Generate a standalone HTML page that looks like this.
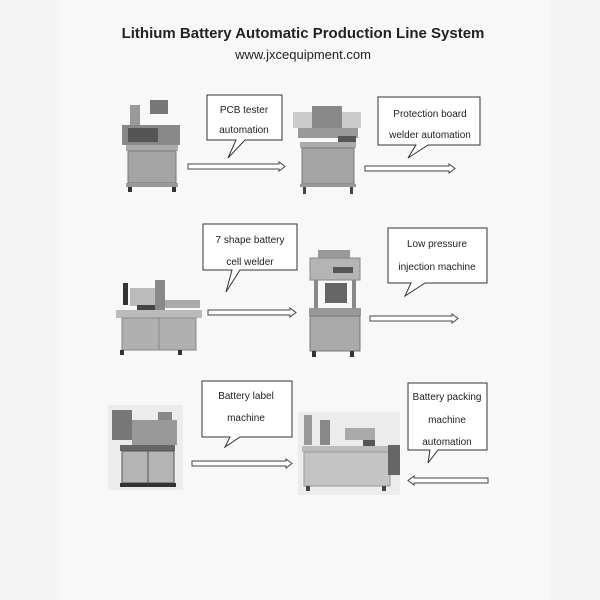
<!DOCTYPE html>
<html><head><style>
html,body{margin:0;padding:0;background:#f3f3f3;}
svg{display:block;}
text{font-family:"Liberation Sans",sans-serif;fill:#222;}
</style></head><body>
<svg width="600" height="600" viewBox="0 0 600 600" xmlns="http://www.w3.org/2000/svg">
<rect width="600" height="600" fill="#f4f4f4"/>
<rect x="60" y="0" width="490" height="600" fill="#f8f8f8"/>
<text x="303" y="38" text-anchor="middle" font-size="15" font-weight="bold" fill="#1a1a1a">Lithium Battery Automatic Production Line System</text>
<text x="303" y="59" text-anchor="middle" font-size="13">www.jxcequipment.com</text>

<g fill="#fff" stroke="#333" stroke-width="1">
<polygon points="207,95 282,95 282,140 245,140 228,158 236,140 207,140"/>
<polygon points="378,97 480,97 480,145 428,145 408,158 416,145 378,145"/>
<polygon points="203,224 297,224 297,270 240,270 226,292 232,270 203,270"/>
<polygon points="388,228 487,228 487,283 425,283 405,296 411,283 388,283"/>
<polygon points="202,381 292,381 292,437 240,437 225,447 230,437 202,437"/>
<polygon points="408,383 487,383 487,450 438,450 428,463 430,450 408,450"/>
</g>
<g font-size="10" text-anchor="middle">
<text x="244" y="113">PCB    tester</text><text x="244" y="133">automation</text>
<text x="430" y="117">Protection board</text><text x="430" y="138">welder automation</text>
<text x="250" y="243">7 shape battery</text><text x="250" y="265">cell welder</text>
<text x="437" y="247">Low pressure</text><text x="437" y="270">injection machine</text>
<text x="246" y="399">Battery label</text><text x="246" y="421">machine</text>
<text x="447" y="400">Battery packing</text><text x="447" y="423">machine</text><text x="447" y="445">automation</text>
</g>
<g fill="#fff" stroke="#444" stroke-width="1">
<polygon points="188,164 279,164 279,162 285,166.5 279,171 279,169 188,169"/>
<polygon points="365,166 449,166 449,164 455,168.5 449,173 449,171 365,171"/>
<polygon points="208,310 290,310 290,308 296,312.5 290,317 290,315 208,315"/>
<polygon points="370,316 452,316 452,314 458,318.5 452,323 452,321 370,321"/>
<polygon points="192,461 286,461 286,459 292,463.5 286,468 286,466 192,466"/>
<polygon points="488,478 414,478 414,476 408,480.5 414,485 414,483 488,483"/>
</g>

<!-- machine 1 -->
<g>
<rect x="130" y="105" width="10" height="35" fill="#999"/><rect x="150" y="100" width="18" height="14" fill="#777"/>
<rect x="122" y="125" width="58" height="20" fill="#888"/><rect x="128" y="128" width="30" height="14" fill="#555"/>
<rect x="126" y="145" width="52" height="6" fill="#aaa"/>
<rect x="128" y="151" width="48" height="32" fill="#a4a4a4" stroke="#777"/>
<rect x="126" y="183" width="52" height="4" fill="#999"/>
<rect x="128" y="187" width="4" height="5" fill="#333"/><rect x="172" y="187" width="4" height="5" fill="#333"/>
</g>
<!-- machine 2 -->
<g>
<rect x="293" y="112" width="68" height="16" fill="#ccc"/><rect x="312" y="106" width="30" height="30" fill="#888"/>
<rect x="298" y="128" width="60" height="10" fill="#999"/><rect x="338" y="136" width="18" height="6" fill="#555"/>
<rect x="300" y="142" width="56" height="6" fill="#aaa"/>
<rect x="302" y="148" width="52" height="36" fill="#a4a4a4" stroke="#777"/>
<rect x="300" y="184" width="56" height="3" fill="#999"/>
<rect x="303" y="187" width="3" height="7" fill="#444"/><rect x="350" y="187" width="3" height="7" fill="#444"/>
</g>
<!-- machine 3 -->
<g>
<rect x="123" y="283" width="5" height="22" fill="#333"/><rect x="130" y="288" width="30" height="18" fill="#bbb"/>
<rect x="155" y="280" width="10" height="30" fill="#888"/><rect x="165" y="300" width="35" height="8" fill="#aaa"/>
<rect x="137" y="305" width="18" height="12" fill="#444"/>
<rect x="116" y="310" width="86" height="8" fill="#bbb"/>
<rect x="122" y="318" width="74" height="32" fill="#b0b0b0" stroke="#888"/>
<line x1="159" y1="318" x2="159" y2="350" stroke="#888"/>
<rect x="120" y="350" width="4" height="5" fill="#333"/><rect x="178" y="350" width="4" height="5" fill="#333"/>
</g>
<!-- machine 4 -->
<g>
<rect x="318" y="250" width="32" height="8" fill="#999"/>
<rect x="310" y="258" width="50" height="22" fill="#b4b4b4" stroke="#888"/><rect x="333" y="267" width="20" height="6" fill="#555"/>
<rect x="314" y="280" width="4" height="28" fill="#888"/><rect x="352" y="280" width="4" height="28" fill="#888"/>
<rect x="325" y="283" width="22" height="20" fill="#666"/>
<rect x="309" y="308" width="52" height="8" fill="#999"/>
<rect x="310" y="316" width="50" height="35" fill="#aaa" stroke="#777"/>
<rect x="312" y="351" width="4" height="6" fill="#333"/><rect x="350" y="351" width="4" height="6" fill="#333"/>
</g>
<!-- machine 5 -->
<g>
<rect x="108" y="405" width="75" height="85" fill="#ececec"/>
<rect x="112" y="410" width="20" height="30" fill="#777"/><rect x="158" y="412" width="14" height="10" fill="#888"/>
<rect x="132" y="420" width="45" height="25" fill="#999"/>
<rect x="120" y="445" width="55" height="6" fill="#666"/>
<rect x="122" y="451" width="52" height="32" fill="#b4b4b4" stroke="#555"/>
<line x1="148" y1="451" x2="148" y2="483" stroke="#555"/>
<rect x="120" y="483" width="56" height="4" fill="#333"/>
</g>
<!-- machine 6 -->
<g>
<rect x="298" y="412" width="102" height="83" fill="#ececec"/>
<rect x="304" y="415" width="8" height="30" fill="#999"/><rect x="320" y="420" width="10" height="25" fill="#888"/>
<rect x="345" y="428" width="30" height="12" fill="#aaa"/><rect x="363" y="440" width="12" height="7" fill="#555"/>
<rect x="302" y="446" width="92" height="6" fill="#bbb"/>
<rect x="304" y="452" width="86" height="34" fill="#c4c4c4" stroke="#999"/>
<rect x="388" y="445" width="12" height="30" fill="#666"/>
<rect x="306" y="486" width="4" height="5" fill="#444"/><rect x="382" y="486" width="4" height="5" fill="#444"/>
</g>
</svg>
</body></html>
